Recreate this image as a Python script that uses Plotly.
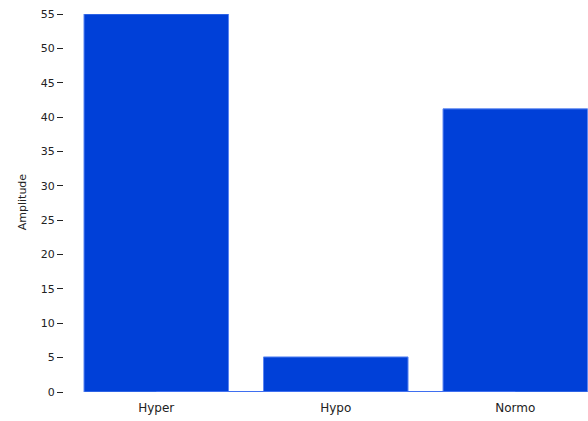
import plotly.graph_objects as go

categories = ["Hyper", "Hypo", "Normo"]
amplitude = [55.0, 5.1, 41.2]
y_ticks = [0, 5, 10, 15, 20, 25, 30, 35, 40, 45, 50, 55]

W, H = 588, 421
left_px = 66.5
top_px = 14
bottom_px = 28.5

fig = go.Figure(
    go.Bar(
        x=categories,
        y=amplitude,
        marker=dict(color="#0040d8", line=dict(color="#5b86f2", width=1)),
    )
)

# baseline joining the bars (only between first and last category)
fig.add_shape(
    type="line",
    xref="x",
    yref="y",
    x0=categories[0],
    x1=categories[-1],
    y0=0,
    y1=0,
    line=dict(color="#3f6ff0", width=2),
    layer="above",
)

fig.update_layout(
    width=W,
    height=H,
    margin=dict(l=0, r=0, t=top_px, b=bottom_px, pad=0),
    paper_bgcolor="white",
    plot_bgcolor="white",
    bargap=0.195,
    showlegend=False,
    font=dict(family="DejaVu Sans", size=11, color="#222222"),
    xaxis=dict(
        domain=[left_px / W, 1],
        range=[-0.5, 2.405],
        showgrid=False,
        zeroline=False,
        showline=False,
        ticks="",
        tickfont=dict(size=12, color="#222222"),
        ticklabelstandoff=7,
        fixedrange=True,
    ),
    yaxis=dict(
        range=[0, 55],
        tickvals=y_ticks,
        anchor="free",
        position=63 / W,
        showgrid=False,
        zeroline=False,
        showline=False,
        ticks="outside",
        ticklen=6,
        tickwidth=1,
        tickcolor="#222222",
        tickfont=dict(size=11, color="#222222"),
        fixedrange=True,
    ),
    annotations=[
        dict(
            text="Amplitude",
            textangle=-90,
            x=22.5 / W,
            y=(H - bottom_px - 202) / (H - bottom_px - top_px),
            xref="paper",
            yref="paper",
            xanchor="center",
            yanchor="middle",
            showarrow=False,
            font=dict(size=11, color="#222222"),
        )
    ],
)

fig.write_html(
    "out.html",
    config={"displayModeBar": False},
    post_script="document.body.style.margin='0';document.body.style.overflow='hidden';",
)
